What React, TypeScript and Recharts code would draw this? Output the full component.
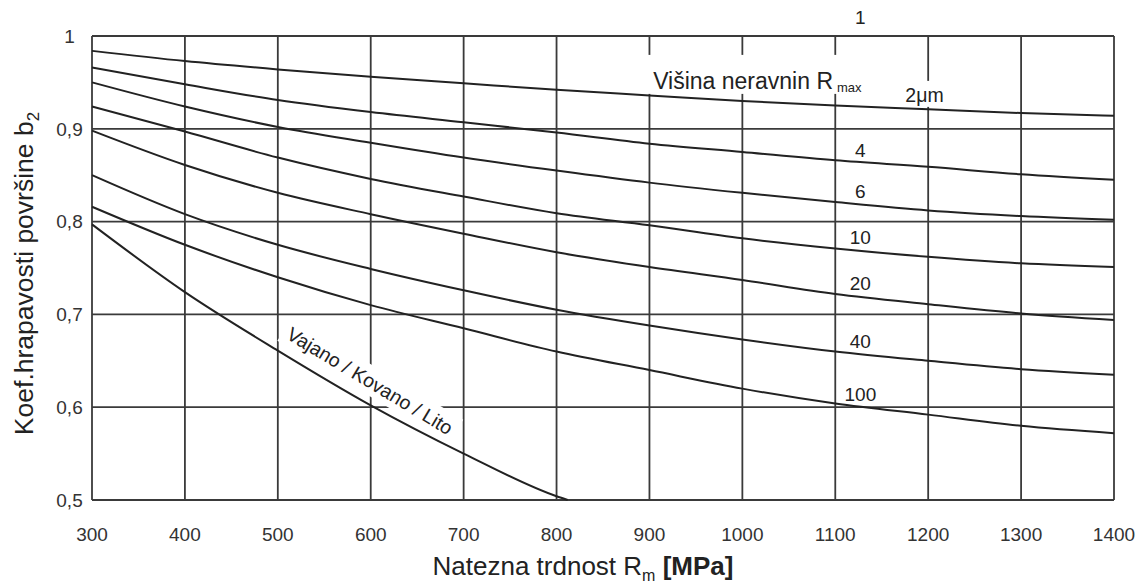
import React from "react";
import {
  LineChart,
  Line,
  XAxis,
  YAxis,
  CartesianGrid,
  ReferenceDot,
} from "recharts";

const FONT = '"Liberation Sans", Arial, Helvetica, sans-serif';
const INK = "#222";
const GRID = "#3a3a3a";

// tensile strength Rm [MPa]
const strength = [300, 400, 500, 600, 700, 800, 900, 1000, 1100, 1200, 1300, 1400];
// surface roughness factor b2 for each Rmax curve
const rough2 = [0.984, 0.973, 0.964, 0.956, 0.949, 0.942, 0.936, 0.930, 0.925, 0.921, 0.917, 0.914];
const rough4 = [0.966, 0.948, 0.931, 0.918, 0.907, 0.896, 0.884, 0.875, 0.866, 0.859, 0.851, 0.845];
const rough6 = [0.950, 0.924, 0.902, 0.885, 0.869, 0.855, 0.842, 0.831, 0.821, 0.812, 0.806, 0.802];
const rough10 = [0.924, 0.897, 0.869, 0.846, 0.827, 0.809, 0.796, 0.782, 0.771, 0.762, 0.755, 0.751];
const rough20 = [0.898, 0.861, 0.831, 0.808, 0.787, 0.767, 0.751, 0.737, 0.722, 0.711, 0.701, 0.694];
const rough40 = [0.850, 0.808, 0.775, 0.749, 0.726, 0.705, 0.688, 0.673, 0.660, 0.650, 0.641, 0.635];
const rough100 = [0.816, 0.775, 0.740, 0.710, 0.685, 0.660, 0.640, 0.620, 0.604, 0.592, 0.580, 0.572];

// rolled / forged / cast curve
const castStrength = [300, 400, 500, 600, 700, 800, 812];
const castB2 = [0.797, 0.724, 0.661, 0.602, 0.550, 0.504, 0.5];

const xTicks = [300, 400, 500, 600, 700, 800, 900, 1000, 1100, 1200, 1300, 1400];
const yTicks = [0.5, 0.6, 0.7, 0.8, 0.9, 1];

// curve labels on the right side
const curveLabels = ["1", "4", "6", "10", "20", "40", "100"];
const curveLabelB2 = [1.013, 0.87, 0.825, 0.776, 0.726, 0.664, 0.607];
const labelStrength = 1127;

const series = ["r2", "r4", "r6", "r10", "r20", "r40", "r100"];
const data = strength.map((s, i) => ({
  s,
  r2: rough2[i],
  r4: rough4[i],
  r6: rough6[i],
  r10: rough10[i],
  r20: rough20[i],
  r40: rough40[i],
  r100: rough100[i],
}));
const castData = castStrength.map((s, i) => ({ s, cast: castB2[i] }));

const fmtY = (v: number) => (v === 1 ? "1" : v.toFixed(1).replace(".", ","));

const XTick = ({ x, y, payload }: any) => (
  <text x={x} y={y + 40.5} textAnchor="middle" fontSize={19} fill="#333" fontFamily={FONT}>
    {payload.value}
  </text>
);

const YTick = ({ x, y, payload }: any) => (
  <text x={x - 22.5} y={y + 6.8} textAnchor="middle" fontSize={19} fill="#333" fontFamily={FONT}>
    {fmtY(payload.value)}
  </text>
);

const YTitle = ({ viewBox }: any) => {
  const cx = viewBox.x + 33;
  const cy = viewBox.y + viewBox.height / 2 + 5.5;
  return (
    <text
      x={cx}
      y={cy}
      transform={`rotate(-90 ${cx} ${cy})`}
      textAnchor="middle"
      fontSize={26.5}
      fill={INK}
      fontFamily={FONT}
    >
      Koef.hrapavosti površine b
      <tspan fontSize={17} dy={6}>2</tspan>
    </text>
  );
};

const XTitle = ({ viewBox }: any) => (
  <text
    x={viewBox.x + viewBox.width / 2 - 20}
    y={viewBox.y + 75}
    textAnchor="middle"
    fontSize={26}
    fill={INK}
    fontFamily={FONT}
  >
    Natezna trdnost R
    <tspan fontSize={16} dy={6}>m</tspan>
    <tspan dy={-6} fontWeight="bold"> [MPa]</tspan>
  </text>
);

const Note = ({ viewBox, text, size = 19 }: any) => (
  <text x={viewBox.x} y={viewBox.y} textAnchor="middle" fontSize={size} fill={INK} fontFamily={FONT}>
    {text}
  </text>
);

const HeightNote = ({ viewBox }: any) => (
  <g>
    <rect x={viewBox.x - 8} y={viewBox.y - 34} width={227} height={39} fill="#fff" />
    <text x={viewBox.x} y={viewBox.y} fontSize={23} fill={INK} fontFamily={FONT}>
      Višina neravnin R
      <tspan fontSize={13} dx={4} dy={3}>max</tspan>
    </text>
  </g>
);

const MicronNote = ({ viewBox }: any) => (
  <g>
    <rect x={viewBox.x - 20} y={viewBox.y - 21} width={40} height={26} fill="#fff" />
    <text x={viewBox.x} y={viewBox.y} textAnchor="middle" fontSize={19.5} fill={INK} fontFamily={FONT}>
      2μm
    </text>
  </g>
);

const CastNote = ({ viewBox }: any) => {
  const { x, y } = viewBox;
  return (
    <g transform={`rotate(31 ${x} ${y})`}>
      <rect x={x - 100} y={y - 15} width={200} height={28} fill="#fff" />
      <text x={x} y={y + 6.5} textAnchor="middle" fontSize={19.5} fill={INK} fontFamily={FONT}>
        Vajano / Kovano / Lito
      </text>
    </g>
  );
};

export default function App() {
  return (
    <div style={{ position: "absolute", left: 0, top: 0, background: "#fff" }}>
      <LineChart
        width={1139}
        height={585}
        data={data}
        margin={{ top: 36, right: 25, bottom: 35, left: 0 }}
      >
        <CartesianGrid stroke={GRID} strokeWidth={1.8} />
        <XAxis
          dataKey="s"
          type="number"
          domain={[300, 1400]}
          ticks={xTicks}
          height={50}
          axisLine={false}
          tickLine={false}
          tickSize={0}
          tickMargin={0}
          tick={<XTick />}
          label={<XTitle />}
        />
        <YAxis
          type="number"
          domain={[0.5, 1]}
          ticks={yTicks}
          width={92}
          axisLine={false}
          tickLine={false}
          tickSize={0}
          tickMargin={0}
          tick={<YTick />}
          label={<YTitle />}
        />
        <ReferenceDot x={904} y={0.943} r={0} fill="none" stroke="none" ifOverflow="visible" label={<HeightNote />} />
        <ReferenceDot x={1196} y={0.929} r={0} fill="none" stroke="none" ifOverflow="visible" label={<MicronNote />} />
        <ReferenceDot x={599} y={0.628} r={0} fill="none" stroke="none" ifOverflow="visible" label={<CastNote />} />
        {curveLabels.map((t, i) => (
          <ReferenceDot
            key={t}
            x={labelStrength}
            y={curveLabelB2[i]}
            r={0}
            fill="none"
            stroke="none"
            ifOverflow="visible"
            label={<Note text={t} />}
          />
        ))}
        {series.map((k) => (
          <Line
            key={k}
            dataKey={k}
            type="monotone"
            stroke={INK}
            strokeWidth={2}
            dot={false}
            isAnimationActive={false}
          />
        ))}
        <Line
          data={castData}
          dataKey="cast"
          type="monotone"
          stroke={INK}
          strokeWidth={2}
          dot={false}
          isAnimationActive={false}
        />
      </LineChart>
    </div>
  );
}
